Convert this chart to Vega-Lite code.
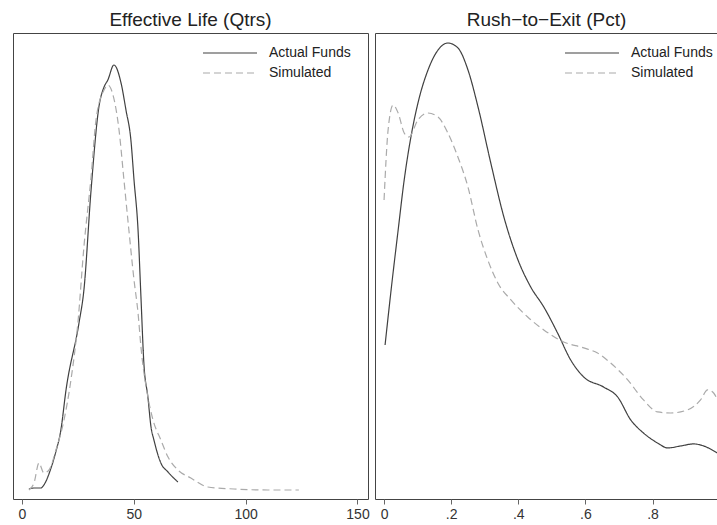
{
  "$schema": "https://vega.github.io/schema/vega-lite/v6.json",
  "padding": {"left": 12, "top": 10, "right": 0, "bottom": 0},
  "background": "white",
  "bounds": "flush",
  "datasets": {
    "life": [
      {"series": "Actual Funds", "x": 3.1, "y": 0.0010},
      {"series": "Actual Funds", "x": 5.4, "y": 0.0011},
      {"series": "Actual Funds", "x": 8.5, "y": 0.0011},
      {"series": "Actual Funds", "x": 9.8, "y": 0.0014},
      {"series": "Actual Funds", "x": 12.7, "y": 0.0029},
      {"series": "Actual Funds", "x": 15.0, "y": 0.0046},
      {"series": "Actual Funds", "x": 17.4, "y": 0.0069},
      {"series": "Actual Funds", "x": 19.7, "y": 0.0109},
      {"series": "Actual Funds", "x": 25.5, "y": 0.0176},
      {"series": "Actual Funds", "x": 27.7, "y": 0.0209},
      {"series": "Actual Funds", "x": 30.9, "y": 0.0309},
      {"series": "Actual Funds", "x": 34.4, "y": 0.0392},
      {"series": "Actual Funds", "x": 36.7, "y": 0.0412},
      {"series": "Actual Funds", "x": 38.4, "y": 0.0419},
      {"series": "Actual Funds", "x": 41.1, "y": 0.0434},
      {"series": "Actual Funds", "x": 44.3, "y": 0.0416},
      {"series": "Actual Funds", "x": 46.5, "y": 0.0389},
      {"series": "Actual Funds", "x": 48.7, "y": 0.0359},
      {"series": "Actual Funds", "x": 50.1, "y": 0.0319},
      {"series": "Actual Funds", "x": 51.9, "y": 0.0269},
      {"series": "Actual Funds", "x": 53.2, "y": 0.0202},
      {"series": "Actual Funds", "x": 54.5, "y": 0.0136},
      {"series": "Actual Funds", "x": 56.3, "y": 0.0102},
      {"series": "Actual Funds", "x": 57.7, "y": 0.0072},
      {"series": "Actual Funds", "x": 59.0, "y": 0.0059},
      {"series": "Actual Funds", "x": 62.1, "y": 0.0036},
      {"series": "Actual Funds", "x": 65.3, "y": 0.0027},
      {"series": "Actual Funds", "x": 69.7, "y": 0.0017},
      {"series": "Simulated", "x": 3.1, "y": 0.0009},
      {"series": "Simulated", "x": 5.4, "y": 0.0016},
      {"series": "Simulated", "x": 7.6, "y": 0.0036},
      {"series": "Simulated", "x": 9.8, "y": 0.0026},
      {"series": "Simulated", "x": 12.1, "y": 0.0029},
      {"series": "Simulated", "x": 15.2, "y": 0.0049},
      {"series": "Simulated", "x": 18.8, "y": 0.0079},
      {"series": "Simulated", "x": 21.9, "y": 0.0119},
      {"series": "Simulated", "x": 25.0, "y": 0.0176},
      {"series": "Simulated", "x": 27.7, "y": 0.0252},
      {"series": "Simulated", "x": 30.9, "y": 0.0322},
      {"series": "Simulated", "x": 33.1, "y": 0.0379},
      {"series": "Simulated", "x": 36.7, "y": 0.0409},
      {"series": "Simulated", "x": 38.4, "y": 0.0414},
      {"series": "Simulated", "x": 40.7, "y": 0.0404},
      {"series": "Simulated", "x": 43.4, "y": 0.0369},
      {"series": "Simulated", "x": 45.6, "y": 0.0319},
      {"series": "Simulated", "x": 47.8, "y": 0.0269},
      {"series": "Simulated", "x": 50.1, "y": 0.0219},
      {"series": "Simulated", "x": 51.9, "y": 0.0186},
      {"series": "Simulated", "x": 53.2, "y": 0.0152},
      {"series": "Simulated", "x": 56.3, "y": 0.0102},
      {"series": "Simulated", "x": 58.6, "y": 0.0079},
      {"series": "Simulated", "x": 62.1, "y": 0.0059},
      {"series": "Simulated", "x": 65.3, "y": 0.0042},
      {"series": "Simulated", "x": 69.7, "y": 0.0029},
      {"series": "Simulated", "x": 75.5, "y": 0.0021},
      {"series": "Simulated", "x": 83.1, "y": 0.0012},
      {"series": "Simulated", "x": 94.8, "y": 0.0010},
      {"series": "Simulated", "x": 110.0, "y": 0.0009},
      {"series": "Simulated", "x": 123.8, "y": 0.0009}
    ],
    "rush": [
      {"series": "Actual Funds", "x": 0.003, "y": 1.155},
      {"series": "Actual Funds", "x": 0.021, "y": 1.568},
      {"series": "Actual Funds", "x": 0.042, "y": 2.018},
      {"series": "Actual Funds", "x": 0.060, "y": 2.393},
      {"series": "Actual Funds", "x": 0.080, "y": 2.715},
      {"series": "Actual Funds", "x": 0.101, "y": 2.970},
      {"series": "Actual Funds", "x": 0.131, "y": 3.218},
      {"series": "Actual Funds", "x": 0.161, "y": 3.368},
      {"series": "Actual Funds", "x": 0.190, "y": 3.420},
      {"series": "Actual Funds", "x": 0.220, "y": 3.383},
      {"series": "Actual Funds", "x": 0.250, "y": 3.218},
      {"series": "Actual Funds", "x": 0.280, "y": 2.940},
      {"series": "Actual Funds", "x": 0.318, "y": 2.520},
      {"series": "Actual Funds", "x": 0.357, "y": 2.115},
      {"series": "Actual Funds", "x": 0.399, "y": 1.793},
      {"series": "Actual Funds", "x": 0.437, "y": 1.590},
      {"series": "Actual Funds", "x": 0.476, "y": 1.440},
      {"series": "Actual Funds", "x": 0.517, "y": 1.245},
      {"series": "Actual Funds", "x": 0.556, "y": 1.043},
      {"series": "Actual Funds", "x": 0.595, "y": 0.915},
      {"series": "Actual Funds", "x": 0.654, "y": 0.840},
      {"series": "Actual Funds", "x": 0.696, "y": 0.765},
      {"series": "Actual Funds", "x": 0.735, "y": 0.593},
      {"series": "Actual Funds", "x": 0.773, "y": 0.495},
      {"series": "Actual Funds", "x": 0.815, "y": 0.420},
      {"series": "Actual Funds", "x": 0.845, "y": 0.383},
      {"series": "Actual Funds", "x": 0.884, "y": 0.398},
      {"series": "Actual Funds", "x": 0.922, "y": 0.413},
      {"series": "Actual Funds", "x": 0.952, "y": 0.398},
      {"series": "Actual Funds", "x": 0.993, "y": 0.345},
      {"series": "Simulated", "x": 0.000, "y": 2.243},
      {"series": "Simulated", "x": 0.012, "y": 2.768},
      {"series": "Simulated", "x": 0.027, "y": 2.955},
      {"series": "Simulated", "x": 0.042, "y": 2.895},
      {"series": "Simulated", "x": 0.060, "y": 2.745},
      {"series": "Simulated", "x": 0.074, "y": 2.715},
      {"series": "Simulated", "x": 0.101, "y": 2.843},
      {"series": "Simulated", "x": 0.131, "y": 2.895},
      {"series": "Simulated", "x": 0.161, "y": 2.865},
      {"series": "Simulated", "x": 0.190, "y": 2.745},
      {"series": "Simulated", "x": 0.220, "y": 2.565},
      {"series": "Simulated", "x": 0.250, "y": 2.340},
      {"series": "Simulated", "x": 0.280, "y": 2.018},
      {"series": "Simulated", "x": 0.309, "y": 1.793},
      {"series": "Simulated", "x": 0.339, "y": 1.620},
      {"series": "Simulated", "x": 0.378, "y": 1.493},
      {"series": "Simulated", "x": 0.428, "y": 1.365},
      {"series": "Simulated", "x": 0.476, "y": 1.268},
      {"series": "Simulated", "x": 0.535, "y": 1.178},
      {"series": "Simulated", "x": 0.595, "y": 1.133},
      {"series": "Simulated", "x": 0.636, "y": 1.095},
      {"series": "Simulated", "x": 0.675, "y": 1.020},
      {"series": "Simulated", "x": 0.726, "y": 0.893},
      {"series": "Simulated", "x": 0.773, "y": 0.743},
      {"series": "Simulated", "x": 0.815, "y": 0.653},
      {"series": "Simulated", "x": 0.854, "y": 0.645},
      {"series": "Simulated", "x": 0.904, "y": 0.668},
      {"series": "Simulated", "x": 0.943, "y": 0.743},
      {"series": "Simulated", "x": 0.964, "y": 0.818},
      {"series": "Simulated", "x": 0.982, "y": 0.795},
      {"series": "Simulated", "x": 0.993, "y": 0.743}
    ]
  },
  "spacing": 7,
  "resolve": {
    "scale": {"x": "independent", "y": "independent", "color": "independent", "strokeDash": "independent"},
    "legend": {"color": "independent", "strokeDash": "independent"}
  },
  "hconcat": [
    {
      "title": "Effective Life (Qtrs)",
      "width": 355,
      "height": 466,
      "data": {"name": "life"},
      "mark": {"type": "line", "interpolate": "monotone", "strokeWidth": 1.2, "clip": true},
      "encoding": {
        "x": {"field": "x", "type": "quantitative", "scale": {"domain": [-4.0, 154.7], "nice": false, "zero": false},
              "axis": {"values": [0, 50, 100, 150], "title": null}},
        "y": {"field": "y", "type": "quantitative", "scale": {"domain": [0, 0.0466], "nice": false}, "axis": null},
        "color": {"field": "series", "type": "nominal", "scale": {"domain": ["Actual Funds", "Simulated"], "range": ["#404040", "#aaaaaa"]},
                  "legend": {"title": null, "orient": "none", "legendX": 189, "legendY": 10}},
        "strokeDash": {"field": "series", "type": "nominal", "scale": {"domain": ["Actual Funds", "Simulated"], "range": [[1, 0], [7, 4]]},
                  "legend": {"title": null, "orient": "none", "legendX": 189, "legendY": 10}}
      }
    },
    {
      "title": "Rush\u2212to\u2212Exit (Pct)",
      "width": 343,
      "height": 466,
      "data": {"name": "rush"},
      "mark": {"type": "line", "interpolate": "monotone", "strokeWidth": 1.2, "clip": true},
      "encoding": {
        "x": {"field": "x", "type": "quantitative", "scale": {"domain": [-0.027, 0.995], "nice": false, "zero": false},
              "axis": {"values": [0, 0.2, 0.4, 0.6, 0.8], "title": null,
                       "labelExpr": "datum.value == 0 ? '0' : replace(format(datum.value, '.1f'), '0.', '.')"}},
        "y": {"field": "y", "type": "quantitative", "scale": {"domain": [0, 3.495], "nice": false}, "axis": null},
        "color": {"field": "series", "type": "nominal", "scale": {"domain": ["Actual Funds", "Simulated"], "range": ["#404040", "#aaaaaa"]},
                  "legend": {"title": null, "orient": "none", "legendX": 189, "legendY": 10}},
        "strokeDash": {"field": "series", "type": "nominal", "scale": {"domain": ["Actual Funds", "Simulated"], "range": [[1, 0], [7, 4]]},
                  "legend": {"title": null, "orient": "none", "legendX": 189, "legendY": 10}}
      }
    }
  ],
  "config": {
    "font": "Liberation Sans",
    "view": {"stroke": "#444444", "strokeWidth": 1},
    "title": {"fontSize": 19, "fontWeight": "normal", "color": "#222222", "offset": 3, "font": "Liberation Sans"},
    "axis": {"grid": false, "domain": false, "tickColor": "#666666", "tickSize": 5, "labelFontSize": 14, "labelColor": "#333333", "labelPadding": 3, "labelFont": "Liberation Sans"},
    "legend": {"symbolType": "stroke", "symbolSize": 2916, "symbolStrokeWidth": 1.2, "labelFontSize": 14, "labelColor": "#222222", "labelFont": "Liberation Sans", "rowPadding": 0, "clipHeight": 20, "labelOffset": 11, "padding": 0}
  }
}
